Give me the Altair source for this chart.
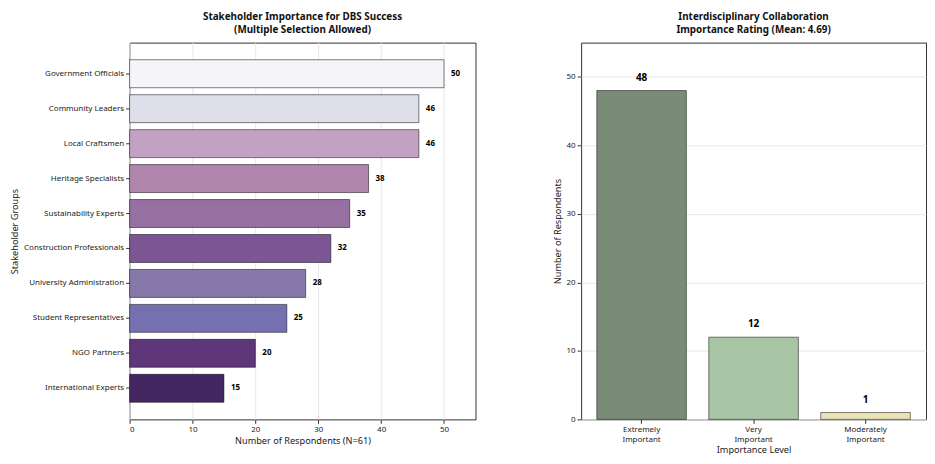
import altair as alt
import pandas as pd

stakeholders = ["Government Officials", "Community Leaders", "Local Craftsmen",
                "Heritage Specialists", "Sustainability Experts", "Construction Professionals",
                "University Administration", "Student Representatives", "NGO Partners",
                "International Experts"]
stakeholder_counts = [50, 46, 46, 38, 35, 32, 28, 25, 20, 15]
stakeholder_colors = ["#f4f4f9", "#dfdfeb", "#c2a2c2", "#b186ad", "#9670a0",
                      "#7c5594", "#8679a9", "#7571b0", "#5f3679", "#432761"]

levels = ["Extremely Important", "Very Important", "Moderately Important"]
level_counts = [48, 12, 1]
level_colors = ["#7a8c78", "#a8c5a5", "#ebe3b8"]

FONT = "Noto Sans"

df_stake = pd.DataFrame({"Stakeholder": stakeholders, "Count": stakeholder_counts})
df_level = pd.DataFrame({"Level": levels, "Count": level_counts})

# left panel: horizontal bars
y_stake = alt.Y("Stakeholder:N", sort=stakeholders,
                scale=alt.Scale(paddingInner=0.2, paddingOuter=0.49),
                axis=alt.Axis(title="Stakeholder Groups", grid=False, titlePadding=4))
x_stake = alt.X("Count:Q", scale=alt.Scale(domain=[0, 55], nice=False),
                axis=alt.Axis(title="Number of Respondents (N=61)", values=[0, 10, 20, 30, 40, 50],
                              grid=True, titlePadding=3))

stake_base = alt.Chart(df_stake)
stake_bars = stake_base.mark_bar(stroke="black", strokeWidth=1, strokeOpacity=0.5).encode(
    y=y_stake,
    x=x_stake,
    color=alt.Color("Stakeholder:N", scale=alt.Scale(domain=stakeholders, range=stakeholder_colors),
                    legend=None),
)
stake_text = stake_base.mark_text(align="left", baseline="middle", dx=7, fontSize=8,
                                  fontWeight="bold", font=FONT, color="black").encode(
    y=y_stake, x=x_stake, text="Count:Q")

left = (stake_bars + stake_text).properties(
    width=347, height=378,
    title=alt.Title(["Stakeholder Importance for DBS Success", "(Multiple Selection Allowed)"],
                    fontSize=9.9, fontWeight="bold", font=FONT, anchor="middle", offset=8))

# right panel: vertical bars
x_level = alt.X("Level:N", sort=levels,
                scale=alt.Scale(paddingInner=0.2, paddingOuter=0.14),
                axis=alt.Axis(title="Importance Level", labelAngle=0, grid=False,
                              labelExpr="split(datum.label, ' ')", labelLineHeight=10,
                              titlePadding=2))
y_level = alt.Y("Count:Q", scale=alt.Scale(domain=[0, 55], nice=False),
                axis=alt.Axis(title="Number of Respondents", values=[0, 10, 20, 30, 40, 50],
                              grid=True, titlePadding=4))

level_base = alt.Chart(df_level)
level_bars = level_base.mark_bar(stroke="black", strokeWidth=1, strokeOpacity=0.5).encode(
    x=x_level,
    y=y_level,
    color=alt.Color("Level:N", scale=alt.Scale(domain=levels, range=level_colors), legend=None),
)
level_text = level_base.mark_text(baseline="bottom", dy=-8, fontSize=10, fontWeight="bold",
                                  font=FONT, color="black").encode(
    x=x_level, y=y_level, text="Count:Q")

right = (level_bars + level_text).properties(
    width=346, height=378,
    title=alt.Title(["Interdisciplinary Collaboration", "Importance Rating (Mean: 4.69)"],
                    fontSize=9.9, fontWeight="bold", font=FONT, anchor="middle", offset=8))

chart = alt.hconcat(left, right, spacing=76).resolve_scale(color="independent").properties(
    padding={"left": 2, "top": 3, "right": 0, "bottom": 0}
).configure_view(
    stroke="#333333", strokeWidth=1
).configure_axis(
    domain=False, tickColor="#333333", tickSize=4, labelFont=FONT, titleFont=FONT,
    labelFontSize=8, titleFontSize=9.2, labelColor="#222222", titleColor="#222222",
    titleFontWeight="normal", gridColor="#e8e8e8", labelPadding=2
).configure_title(color="#111111", lineHeight=12.5)

chart.save("out.html", embed_options={"renderer": "svg", "actions": False})
